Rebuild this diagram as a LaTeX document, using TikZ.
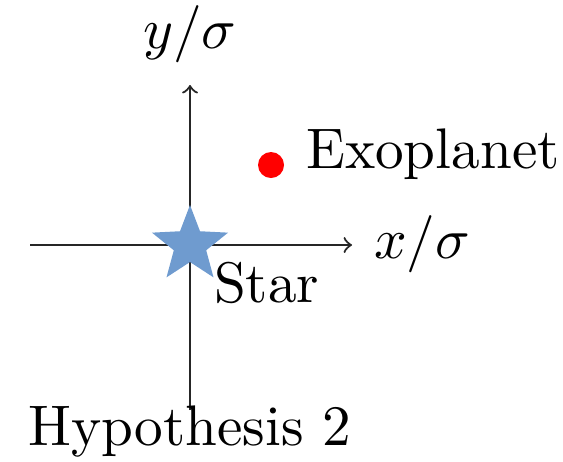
\documentclass[tikz,border=0pt]{standalone}
\usepackage{amsmath}
\usepackage{xcolor}
\usepackage{tikz}
\usetikzlibrary{shapes.geometric}

\definecolor{starblue}{RGB}{111,155,207}

\begin{document}
\begin{tikzpicture}[x=0.25pt, y=-0.25pt,
		axis/.style={draw=black!85, line width=0.55pt, ->},
		lbl/.style={inner sep=0pt, font=\normalsize, scale=1.43},
		starmark/.style={star, star points=5, star point ratio=2.35, fill=starblue, minimum size=20pt, inner sep=0pt}]
		\useasboundingbox (0,0) rectangle (563,461);
		\coordinate (O) at (190,245);
		\coordinate (xl) at (30,245);
		\coordinate (xr) at (352,245);
		\coordinate (yb) at (190,410);
		\coordinate (yt) at (190,85);
		
		\draw[axis] (xl) -- (xr);
		\draw[axis] (yb) -- (yt);
		\node[starmark] (star) at (O) {};
		\node[circle, fill=red, inner sep=0pt, minimum size=6.5pt] (dot) at (271,165) {};
		
		\foreach \x/\y/\name/\label in {
			305/168/planet/Exoplanet,
			213/302/starlbl/Star,
			27/445/hyp/Hypothesis 2
		}{
			\node[lbl, anchor=base west] (\name) at (\x,\y) {\label};
		}
		\node[lbl, anchor=base west] (xlbl) at (373,258) {$x/\sigma$};
		\node[lbl, anchor=base] (ylbl) at (190,48) {$y/\sigma$};
\end{tikzpicture}
\end{document}
